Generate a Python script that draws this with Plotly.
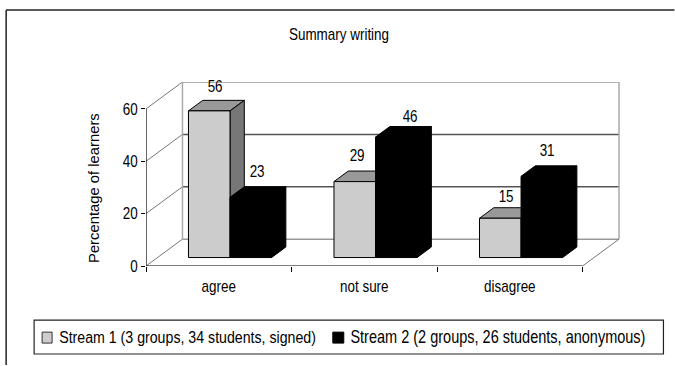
import plotly.graph_objects as go

# Survey results
categories = ["agree", "not sure", "disagree"]
stream_1 = [56, 29, 15]
stream_2 = [23, 46, 31]
stream_1_name = "Stream 1 (3 groups, 34 students, signed)"
stream_2_name = "Stream 2 (2 groups, 26 students, anonymous)"
y_ticks = [0, 20, 40, 60]

FONT = "Liberation Sans, Arial, sans-serif"
FS = 16.4
LEGEND_FS_1 = 17.3
LEGEND_FS_2 = 17.7
AXIS_TITLE_FS = 14.8
CONDENSE = 0.82

# Plot area in pixels
W, H = 675, 366
L, R, T, B = 146, 620.5, 81.5, 266.5
CAT_PX = 145.67
VAL_PX = 2.633

# Pseudo-3D geometry, in data units
WALL_DX, WALL_DY = 36.5 / CAT_PX, 27 / VAL_PX
DEPTH_DX, DEPTH_DY = 14.3 / CAT_PX, 10.6 / VAL_PX
FLOOR = 8.5 / VAL_PX
BAR_START = 42.5 / CAT_PX
BAR_W = 41.6 / CAT_PX

x_max = (R - L) / CAT_PX
y_max = (B - T) / VAL_PX
n = len(categories)


def px(x):
    return (x - L) / (R - L)


def py(y):
    return (B - y) / (B - T)


fig = go.Figure()


def line(xs, ys, color, width):
    fig.add_trace(go.Scatter(x=xs, y=ys, mode="lines", line=dict(color=color, width=width),
                             showlegend=False, hoverinfo="skip", cliponaxis=False, zorder=0))


def face(xs, ys, fill, z):
    fig.add_trace(go.Scatter(x=xs, y=ys, mode="lines", fill="toself", fillcolor=fill,
                             line=dict(color="black", width=1), showlegend=False,
                             hoverinfo="skip", cliponaxis=False, zorder=z))


# Back wall, side wall and floor
for v in y_ticks:
    edge = "#999999" if v in (0, 60) else "#555555"
    line([WALL_DX, n + WALL_DX], [v + WALL_DY, v + WALL_DY], edge, 1.5)
    line([0, WALL_DX], [v, v + WALL_DY], "#777777", 1)
line([WALL_DX, WALL_DX], [WALL_DY, 60 + WALL_DY], "#aaaaaa", 1.5)
line([n + WALL_DX, n + WALL_DX], [WALL_DY, 60 + WALL_DY], "#aaaaaa", 1.5)
line([n, n + WALL_DX], [0, WALL_DY], "#777777", 1)

# Front axis lines
line([0, 0], [0, 60], "black", 1.2)
line([0, n], [0, 0], "black", 1.2)

# Front faces come from bars; their tops and sides are polygons on the same scales
series = [
    (stream_1, stream_1_name, "#cccccc", "#999999", "#777777", 0, 2),
    (stream_2, stream_2_name, "black", "black", "black", 1, 4),
]
for values, name, front, top, side, slot, z in series:
    xs = [i + BAR_START + slot * BAR_W for i in range(n)]
    for x0, v in zip(xs, values):
        y1 = FLOOR + v
        x1 = x0 + BAR_W
        face([x0, x0 + DEPTH_DX, x1 + DEPTH_DX, x1, x0], [y1, y1 + DEPTH_DY, y1 + DEPTH_DY, y1, y1], top, z - 1)
        face([x1, x1 + DEPTH_DX, x1 + DEPTH_DX, x1, x1],
             [y1, y1 + DEPTH_DY, FLOOR + DEPTH_DY, FLOOR, y1], side, z - 1)
    fig.add_trace(go.Bar(x=xs, y=values, base=FLOOR, width=BAR_W, offset=0, name=name,
                         marker=dict(color=front, line=dict(color="black", width=1)),
                         hoverinfo="skip", showlegend=False, zorder=z))

# Value labels, placed relative to the back edge of each bar's top face
label_nudges = {
    0: [(6, 14), (2, 16), (6, 12)],
    1: [(6, 16), (14, 11), (5, 15.5)],
}
annotations = []
for slot, values in enumerate((stream_1, stream_2)):
    for i, v in enumerate(values):
        dx, dy = label_nudges[slot][i]
        annotations.append(dict(
            x=i + BAR_START + (slot + 0.5) * BAR_W, y=FLOOR + v + DEPTH_DY,
            xref="x", yref="y", text=str(v), showarrow=False,
            xanchor="center", yanchor="middle",
            xshift=dx, yshift=dy, font=dict(family=FONT, size=FS, color="black")))


def page_text(x, y, text, size=FS, angle=0):
    annotations.append(dict(x=px(x), y=py(y), xref="paper", yref="paper", text=text, textangle=angle,
                            showarrow=False, xanchor="center", yanchor="middle",
                            font=dict(family=FONT, size=size, color="black")))


page_text(94, 188, "Percentage of learners", size=AXIS_TITLE_FS, angle=-90)
page_text(339, 33, "Summary writing")
page_text(187.5, 338, stream_1_name, size=LEGEND_FS_1)
page_text(498, 338, stream_2_name, size=LEGEND_FS_2)


def page_shape(kind, x0, y0, x1, y1, color, width, fill="rgba(0,0,0,0)"):
    spec = dict(type=kind, xref="paper", yref="paper", x0=px(x0), x1=px(x1), y0=py(y0), y1=py(y1),
                line=dict(color=color, width=width))
    if kind == "rect":
        spec["fillcolor"] = fill
    return spec


shapes = [
    # Chart frame: top and left edges
    page_shape("line", 6, 9, 675, 9, "#222222", 1.5),
    page_shape("line", 6, 9, 6, 366, "#222222", 1.5),
    # Legend box and its two keys
    page_shape("rect", 34, 321, 664, 355, "#222222", 1.2),
    page_shape("rect", 42, 333, 52, 344, "#333333", 1, fill="#cccccc"),
    page_shape("rect", 333, 333, 344, 344, "black", 1, fill="black"),
]

fig.update_layout(
    width=W, height=H, autosize=False,
    margin=dict(l=L, r=W - R, t=T, b=H - B, pad=0),
    paper_bgcolor="white", plot_bgcolor="white",
    barmode="overlay", annotations=annotations, shapes=shapes, showlegend=False,
    font=dict(family=FONT, size=FS, color="black"),
    xaxis=dict(range=[0, x_max], tickmode="array", tickvals=[i + 0.5 for i in range(n)],
               ticktext=categories, ticks="", showgrid=False, zeroline=False, showline=False,
               ticklabelstandoff=9, fixedrange=True,
               minor=dict(tickmode="linear", tick0=0, dtick=1, ticks="outside", ticklen=5,
                          tickcolor="black", tickwidth=1, showgrid=False)),
    yaxis=dict(range=[0, y_max], tickmode="array", tickvals=y_ticks, ticks="outside", ticklen=4,
               tickcolor="black", tickwidth=1, showgrid=False, zeroline=False, showline=False,
               fixedrange=True),
)

# Condense horizontal text to the chart's narrow typeface proportions
condense_js = """
setTimeout(function () {
  document.getElementById('{plot_id}').querySelectorAll('svg text').forEach(function (t) {
    var m = t.getCTM();
    if (m && Math.abs(m.b) > 0.01) return;
    var len = t.getComputedTextLength();
    if (len > 0) {
      t.setAttribute('textLength', len * %s);
      t.setAttribute('lengthAdjust', 'spacingAndGlyphs');
    }
  });
}, 0);
""" % CONDENSE

fig.write_html("out.html", config={"displayModeBar": False}, post_script=condense_js)
